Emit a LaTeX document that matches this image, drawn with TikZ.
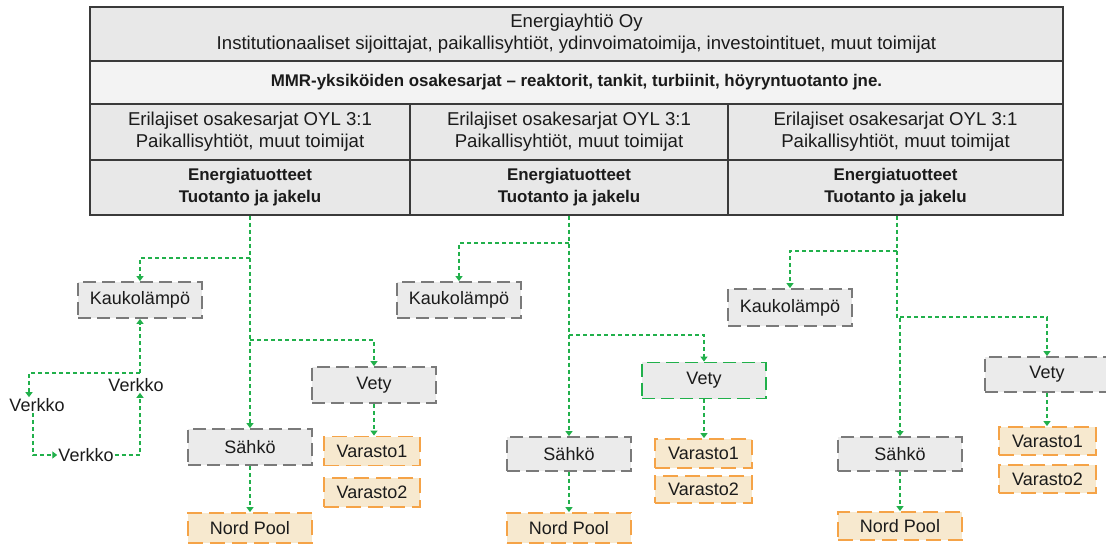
\documentclass[tikz,border=0pt]{standalone}
\usepackage{fontspec}
\setmainfont{Liberation Sans}
\usetikzlibrary{arrows.meta}
\definecolor{tline}{HTML}{3A3A3A}
\definecolor{tfill}{HTML}{E8E8E8}
\definecolor{tfilllight}{HTML}{F3F3F3}
\definecolor{bfill}{HTML}{EBEBEB}
\definecolor{bline}{HTML}{7A7A7A}
\definecolor{ofill}{HTML}{F7E9CF}
\definecolor{oline}{HTML}{F5A347}
\definecolor{cgreen}{HTML}{21B04B}
\definecolor{txt}{HTML}{1B1B1B}
\newcommand{\regfont}{\fontsize{18.6}{22}\selectfont}
\newcommand{\boxfont}{\fontsize{18}{22}\selectfont}
\newcommand{\boldfont}{\fontsize{16.9}{22}\selectfont\bfseries}
\begin{document}
\begin{tikzpicture}[x=1pt,y=-1pt,
  tcell/.style={draw=tline, line width=1.5pt, fill=tfill, inner sep=0pt, align=center, text=txt, font=\regfont},
  tbold/.style={tcell, font=\boldfont},
  graybox/.style={draw=bline, fill=bfill, line width=1.8pt, dash pattern=on 13pt off 6pt, minimum width=124pt, minimum height=36pt, inner sep=0pt, text=txt, font=\boxfont},
  greenbox/.style={graybox, draw=cgreen},
  orangebox/.style={draw=oline, fill=ofill, line width=1.8pt, dash pattern=on 15pt off 7pt, minimum height=29pt, inner sep=0pt, text=txt, font=\boxfont},
  lbl/.style={inner sep=1pt, text=txt, font=\boxfont},
  conn/.style={draw=cgreen, line width=1.6pt, dash pattern=on 4pt off 3pt},
  arr/.style={conn, -{Triangle[width=7pt,length=5pt]}}
]
\useasboundingbox (0,0) rectangle (1106,545);

% ---- table ----
\node[tcell, minimum width=973pt, minimum height=54pt] (r1) at (576.5,34)
  {Energiayhtiö Oy\\Institutionaaliset sijoittajat, paikallisyhtiöt, ydinvoimatoimija, investointituet, muut toimijat};
\node[tbold, fill=tfilllight, minimum width=973pt, minimum height=43pt] (r2) at (576.5,82.5)
  {MMR-yksiköiden osakesarjat – reaktorit, tankit, turbiinit, höyryntuotanto jne.};
\node[tcell, minimum width=320pt, minimum height=56pt] (o1) at (250,132)
  {Erilajiset osakesarjat OYL 3:1\\Paikallisyhtiöt, muut toimijat};
\node[tcell, minimum width=318pt, minimum height=56pt] (o2) at (569,132)
  {Erilajiset osakesarjat OYL 3:1\\Paikallisyhtiöt, muut toimijat};
\node[tcell, minimum width=335pt, minimum height=56pt] (o3) at (895.5,132)
  {Erilajiset osakesarjat OYL 3:1\\Paikallisyhtiöt, muut toimijat};
\node[tbold, minimum width=320pt, minimum height=55pt] (e1) at (250,187.5)
  {Energiatuotteet\\Tuotanto ja jakelu};
\node[tbold, minimum width=318pt, minimum height=55pt] (e2) at (569,187.5)
  {Energiatuotteet\\Tuotanto ja jakelu};
\node[tbold, minimum width=335pt, minimum height=55pt] (e3) at (895.5,187.5)
  {Energiatuotteet\\Tuotanto ja jakelu};

% ---- column 1 ----
\node[graybox] (k1) at (140,300) {Kaukolämpö};
\node[graybox] (v1) at (374,385) {Vety};
\node[graybox] (s1) at (250,447) {Sähkö};
\node[orangebox, minimum width=124pt, minimum height=30pt] (np1) at (250,528) {Nord Pool};
\node[orangebox, minimum width=96pt] (va11) at (372,451) {Varasto1};
\node[orangebox, minimum width=96pt] (va12) at (372,492.5) {Varasto2};
\node[lbl] (vL) at (37,405) {Verkko};
\node[lbl] (vB) at (86,455) {Verkko};
\node[lbl] (vR) at (136,385) {Verkko};

% ---- column 2 ----
\node[graybox] (k2) at (459,300) {Kaukolämpö};
\node[greenbox] (v2) at (704,380.5) {Vety};
\node[graybox, minimum height=34pt] (s2) at (569,454) {Sähkö};
\node[orangebox, minimum width=124pt, minimum height=30pt] (np2) at (569,528) {Nord Pool};
\node[orangebox, minimum width=97pt] (va21) at (703.5,453.5) {Varasto1};
\node[orangebox, minimum width=97pt, minimum height=27pt] (va22) at (703.5,489.5) {Varasto2};

% ---- column 3 ----
\node[graybox, minimum height=37pt] (k3) at (790,307.5) {Kaukolämpö};
\node[graybox, minimum height=35pt] (v3) at (1047,374.5) {Vety};
\node[graybox, minimum height=34pt] (s3) at (900,454) {Sähkö};
\node[orangebox, minimum width=124pt, minimum height=28pt] (np3) at (900,526) {Nord Pool};
\node[orangebox, minimum width=97pt, minimum height=28pt] (va31) at (1047.5,441) {Varasto1};
\node[orangebox, minimum width=97pt, minimum height=28pt] (va32) at (1047.5,479) {Varasto2};

% ---- connectors column 1 ----
\draw[arr] (e1.south) -- (s1.north);
\coordinate (b1k) at (e1.south |- 0,258);
\draw[arr] (b1k) -| (k1.north);
\coordinate (b1v) at (e1.south |- 0,340);
\draw[arr] (b1v) -| (v1.north);
\draw[arr] (v1.south) -- (v1.south |- va11.north);
\draw[arr] (s1.south) -- (np1.north);
\coordinate (c1) at (140,373);
\draw[arr] (c1) -- (k1.south);
\draw[arr] (c1) -| ([xshift=-8pt]vL.north);
\draw[arr] ([xshift=-4pt]vL.south) |- (vB.west);
\draw[arr] (vB.east) -| ([xshift=4pt]vR.south);

% ---- connectors column 2 ----
\draw[arr] (e2.south) -- (s2.north);
\coordinate (b2k) at (e2.south |- 0,243);
\draw[arr] (b2k) -| (k2.north);
\coordinate (b2v) at (e2.south |- 0,335);
\draw[arr] (b2v) -| (v2.north);
\draw[arr] (v2.south) -- (v2.south |- va21.north);
\draw[arr] (s2.south) -- (np2.north);

% ---- connectors column 3 ----
\coordinate (t3) at ([xshift=1.5pt]e3.south);
\coordinate (j3) at (t3 |- 0,317);
\draw[arr] (t3) -- (j3) -| (s3.north);
\coordinate (b3k) at (t3 |- 0,251);
\draw[arr] (b3k) -| (k3.north);
\coordinate (b3v) at (s3.north |- 0,317);
\draw[arr] (b3v) -| (v3.north);
\draw[arr] (v3.south) -- (v3.south |- va31.north);
\draw[arr] (s3.south) -- (np3.north);
\end{tikzpicture}
\end{document}
